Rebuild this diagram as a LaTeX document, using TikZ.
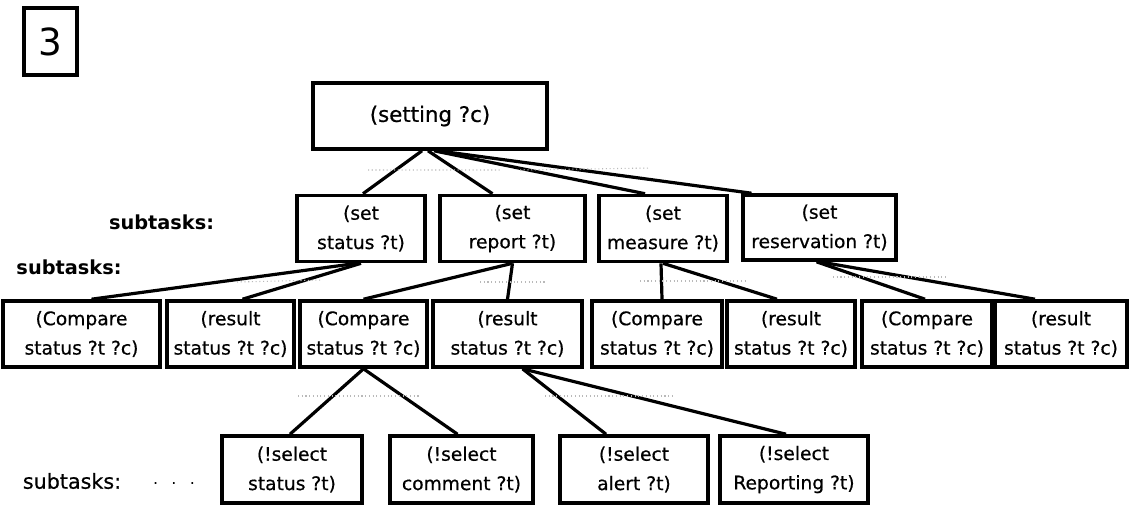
\documentclass[tikz,border=0pt]{standalone}
\usepackage{fontspec}
\setmainfont{DejaVu Sans}
\newfontfamily\semiheavy[FakeBold=0.6]{DejaVu Sans}
\usetikzlibrary{calc}
\begin{document}
\begin{tikzpicture}[x=0.75pt,y=-0.75pt,
  task/.style={draw,line width=2.7pt,rectangle,inner sep=0pt,align=center,
    font=\semiheavy\fontsize{14}{22}\selectfont,minimum height=66*0.75pt},
  conn/.style={line width=2.4pt},
  faint/.style={gray!55,dotted,line width=0.8pt},
  lbl/.style={font=\fontsize{14.5}{16}\selectfont\bfseries,inner sep=0pt}]
\useasboundingbox (0,0) rectangle (1130,508);
% number box
\node[draw,line width=2.8pt,minimum width=53*0.75pt,minimum height=67*0.75pt,inner sep=0pt,font=\fontsize{28}{30}\selectfont] (num) at (50.5,41.5) {3};
% root
\node[task,minimum width=234*0.75pt,font=\semiheavy\fontsize{16}{18}\selectfont] (root) at (430,116) {(setting ?c)};
% level 1
\node[task,minimum width=128*0.75pt] (s1) at (361,228.5) {(set\\status ?t)};
\node[task,minimum width=145*0.75pt] (s2) at (512.5,228.5) {(set\\report ?t)};
\node[task,minimum width=128*0.75pt] (s3) at (663,228.5) {(set\\measure ?t)};
\node[task,minimum width=153*0.75pt,minimum height=65*0.75pt] (s4) at (819.5,227.5) {(set\\reservation ?t)};
% level 2
\node[task,minimum width=157*0.75pt] (c1) at (81.5,334) {(Compare\\status ?t ?c)};
\node[task,minimum width=127*0.75pt] (c2) at (230.5,334) {(result\\status ?t ?c)};
\node[task,minimum width=127*0.75pt] (c3) at (363.5,334) {(Compare\\status ?t ?c)};
\node[task,minimum width=149*0.75pt] (c4) at (507.5,334) {(result\\status ?t ?c)};
\node[task,minimum width=130*0.75pt] (c5) at (657,334) {(Compare\\status ?t ?c)};
\node[task,minimum width=128*0.75pt] (c6) at (791,334) {(result\\status ?t ?c)};
\node[task,minimum width=130*0.75pt] (c7) at (927,334) {(Compare\\status ?t ?c)};
\node[task,minimum width=132*0.75pt] (c8) at (1061,334) {(result\\status ?t ?c)};
% level 3
\node[task,minimum width=140*0.75pt,minimum height=67*0.75pt] (b1) at (292,469.5) {(!select\\status ?t)};
\node[task,minimum width=143*0.75pt,minimum height=67*0.75pt] (b2) at (461.5,469.5) {(!select\\comment ?t)};
\node[task,minimum width=148*0.75pt,minimum height=67*0.75pt] (b3) at (634,469.5) {(!select\\alert ?t)};
\node[task,minimum width=148*0.75pt,minimum height=67*0.75pt] (b4) at (794,469.5) {(!select\\Reporting ?t)};
% labels
\node[lbl] (l1) at (161.5,222) {subtasks:};
\node[lbl] (l2) at (69,267) {subtasks:};
\node[font=\semiheavy\fontsize{15.5}{16}\selectfont,inner sep=0pt] (l3) at (72,481) {subtasks:};
\node[font=\fontsize{12}{14}\selectfont,inner sep=0pt] (dots) at (174,483) {.\hspace{10pt}.\hspace{10pt}.};
% connectors
\draw[conn] ($(root.south)+(-8,0)$) -- ($(s1.north)+(2,0)$);
\draw[conn] ($(root.south)+(-2,0)$) -- ($(s2.north)+(-20,0)$);
\draw[conn] ($(root.south)+(4,0)$) -- ($(s3.north)+(-18,0)$);
\draw[conn] ($(root.south)+(8,0)$) -- ($(s4.north)+(-68,0)$);
\draw[conn] ($(s1.south)+(-4,0)$) -- ($(c1.north)+(10,0)$);
\draw[conn] ($(s1.south)+(0,0)$) -- ($(c2.north)+(12,0)$);
\draw[conn] ($(s2.south)+(0,0)$) -- (c3.north);
\draw[conn] ($(s2.south)+(0,0)$) -- (c4.north);
\draw[conn] ($(s3.south)+(-2,0)$) -- ($(c5.north)+(5,0)$);
\draw[conn] ($(s3.south)+(0,0)$) -- ($(c6.north)+(-14,0)$);
\draw[conn] ($(s4.south)+(-3,0)$) -- ($(c7.north)+(-2,0)$);
\draw[conn] ($(s4.south)+(0,0)$) -- ($(c8.north)+(-26,0)$);
\draw[conn] (c3.south) -- ($(b1.north)+(-2,0)$);
\draw[conn] (c3.south) -- ($(b2.north)+(-4,0)$);
\draw[conn] ($(c4.south)+(15,0)$) -- ($(b3.north)+(-28,0)$);
\draw[conn] ($(c4.south)+(15,0)$) -- ($(b4.north)+(-8,0)$);
% faint dotted arcs
\draw[faint] (368,170) -- (500,170) (520,170) -- (650,168);
\draw[faint] (237,282) -- (322,280);
\draw[faint] (480,282) -- (545,282);
\draw[faint] (640,281) -- (745,281);
\draw[faint] (833,277) -- (947,277);
\draw[faint] (298,396) -- (419,396);
\draw[faint] (545,396) -- (672,396);
\end{tikzpicture}
\end{document}
